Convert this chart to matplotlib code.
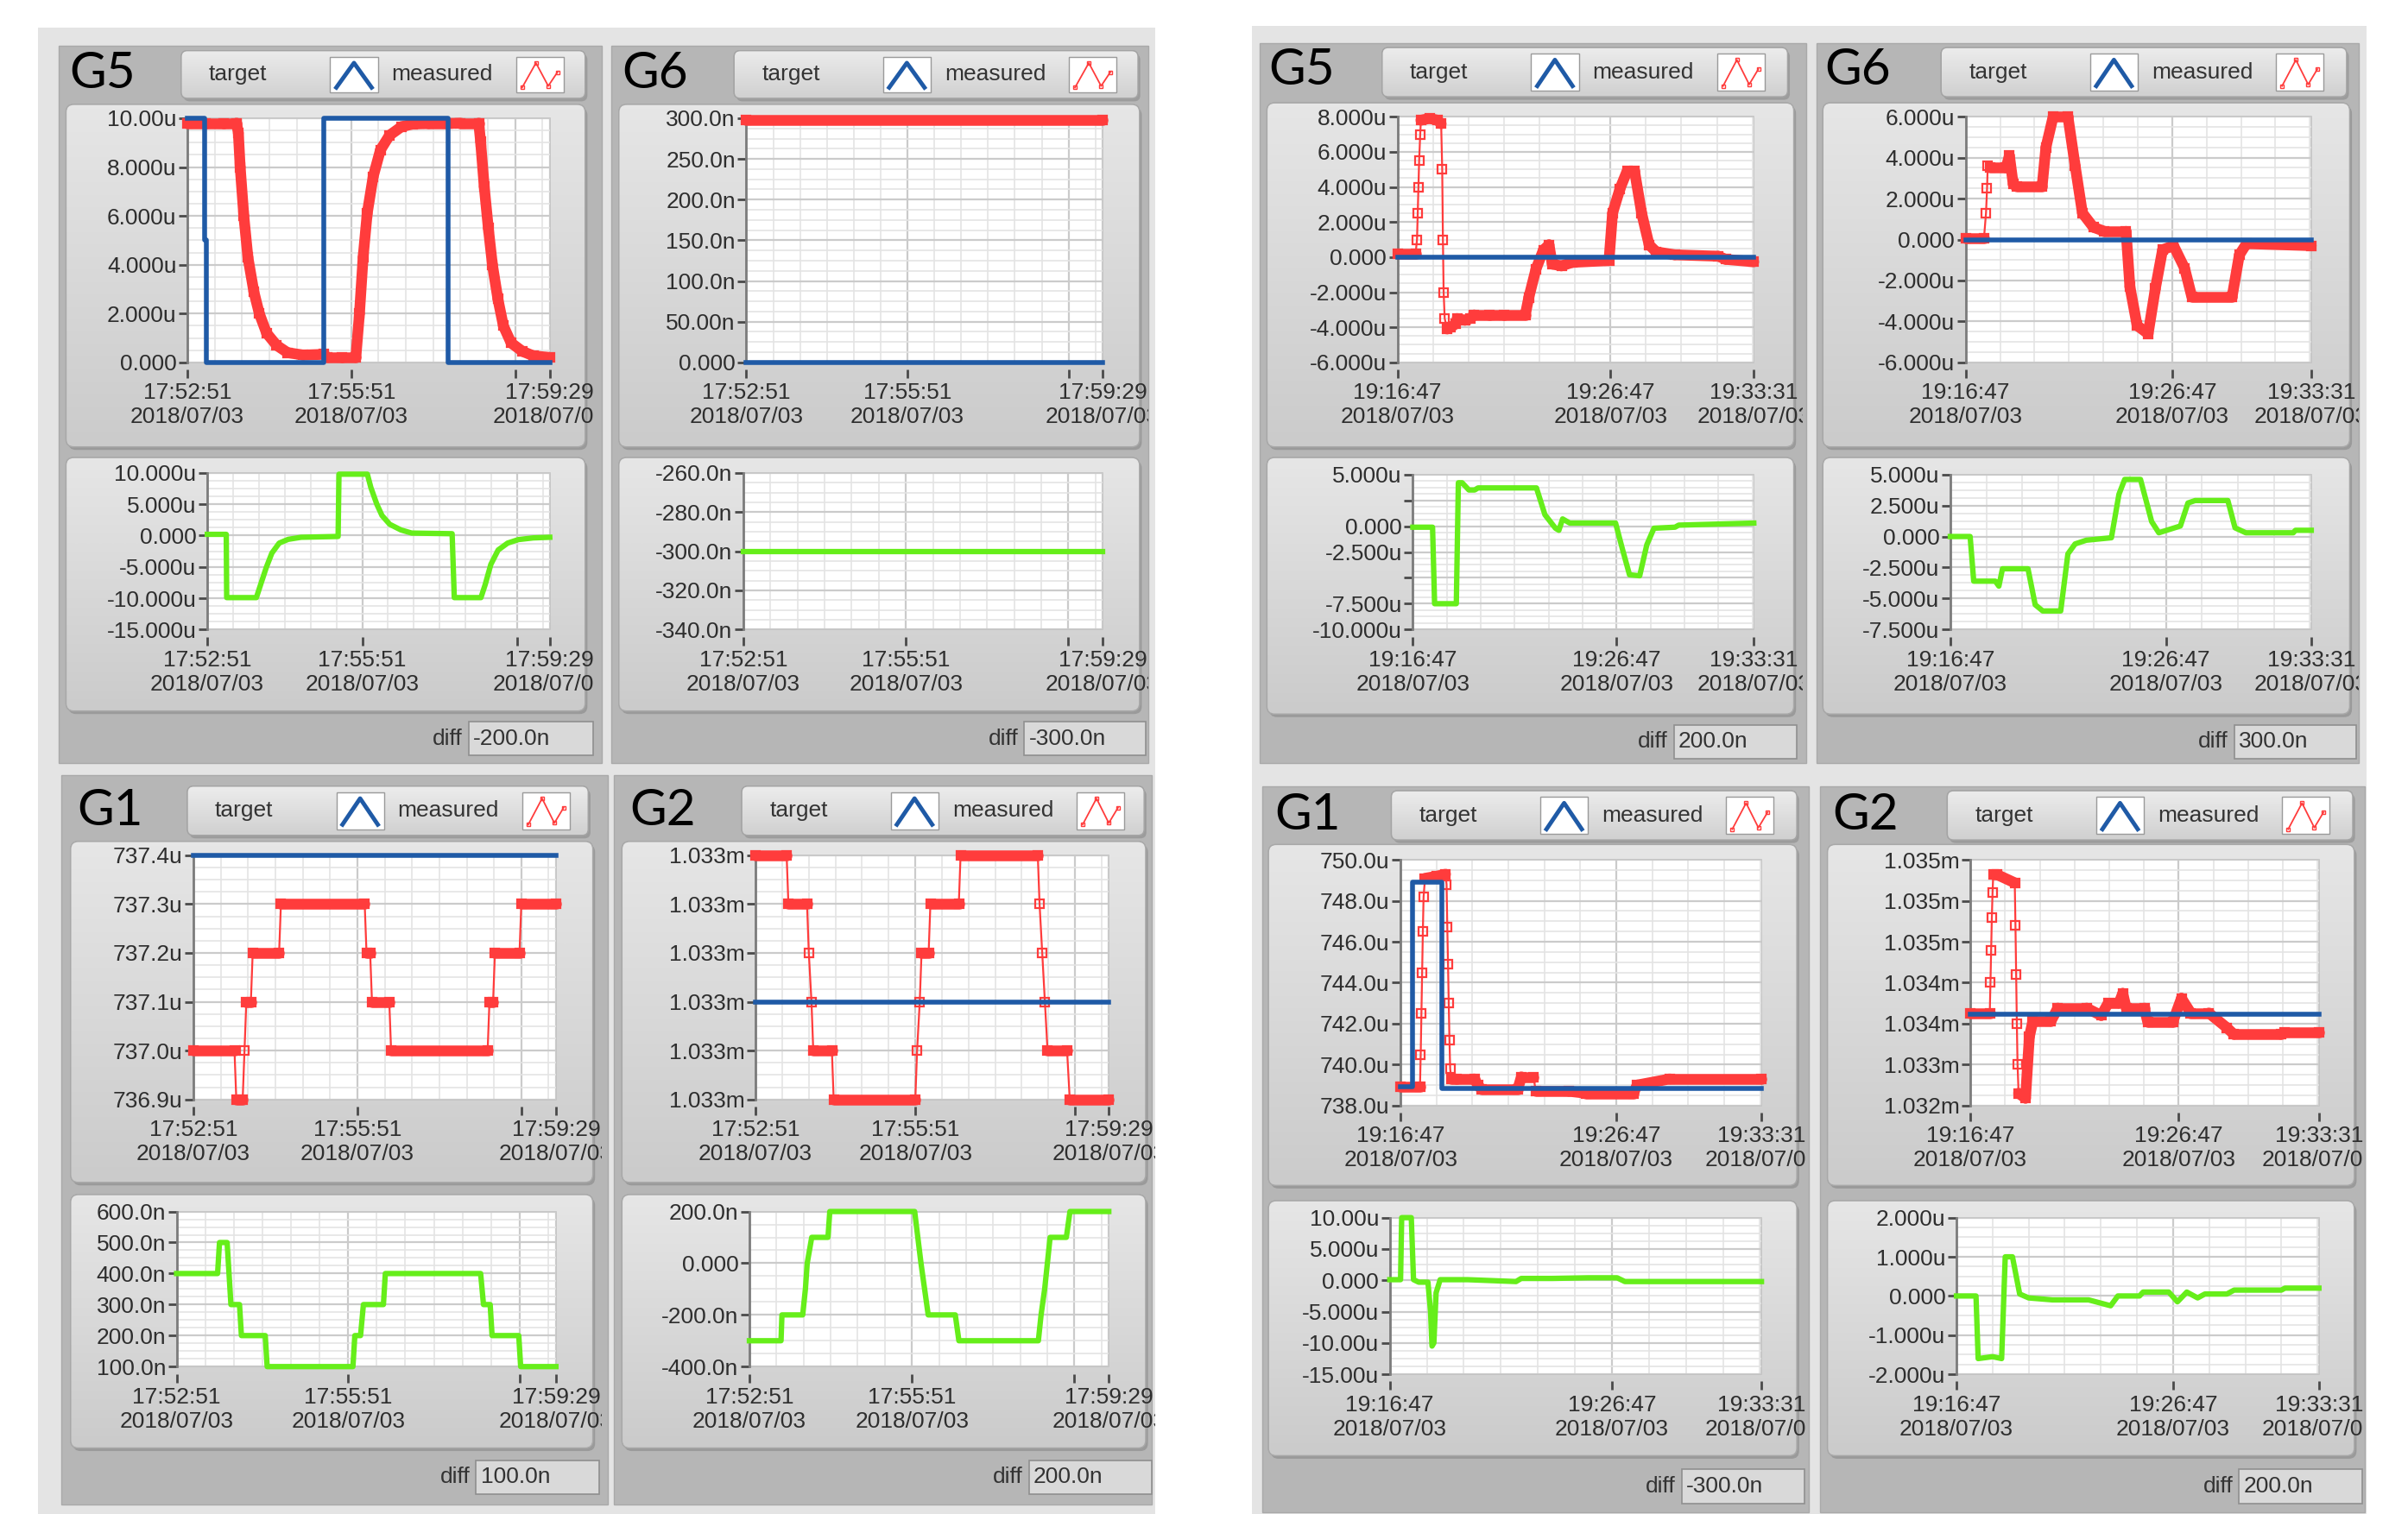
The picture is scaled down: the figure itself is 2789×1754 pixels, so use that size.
import numpy as np
import matplotlib.pyplot as plt
from matplotlib.patches import FancyBboxPatch, Rectangle
from matplotlib.collections import LineCollection
from matplotlib.colors import LinearSegmentedColormap
from matplotlib.ticker import MultipleLocator, AutoMinorLocator
from matplotlib.transforms import Bbox, TransformedBbox

plt.rcParams['font.family'] = ['Liberation Sans', 'DejaVu Sans']

W, H = 1568, 986  # layout units (y down), figure is 2789x1754 px

BLUE = '#1f5aa6'
RED = '#ff3c3c'
GREEN = '#66ee1a'
FS = 19  # text size of scales, legend and indicator

# --- time axes, seconds from first sample
left_xticks = [0, 180, 360, 398]
left_xlabels = ['17:52:51\n2018/07/03', '17:55:51\n2018/07/03', '', '17:59:29\n2018/07/03']
right_xticks = [0, 600, 1004]
right_xlabels = ['19:16:47\n2018/07/03', '19:26:47\n2018/07/03', '19:33:31\n2018/07/03']

# ---------------- left run (17:52 - 17:59) ----------------
# G5 (u)
g5l_target_t = [0, 19, 19, 21, 21, 150, 150, 286, 286, 398]
g5l_target_v = [10, 10, 5, 5, 0, 0, 10, 10, 0, 0]
g5l_meas_t = [0, 20, 40, 54, 56, 58, 62, 66.5, 73, 79, 87, 98, 110, 127, 150, 154, 170, 185,
              189, 193, 197.5, 204, 212, 222, 235, 247, 265, 285, 300, 320, 322, 326, 330.5,
              335, 341, 347, 355.5, 368, 380, 398]
g5l_meas_v = [9.8, 9.8, 9.8, 9.8, 9.4, 8.0, 6.0, 4.3, 2.9, 2.0, 1.2, 0.7, 0.4, 0.3, 0.33, 0.2, 0.2, 0.2,
              2.0, 4.3, 6.1, 7.6, 8.7, 9.3, 9.65, 9.76, 9.78, 9.78, 9.8, 9.8, 9.05, 7.2, 5.5,
              4.0, 2.6, 1.5, 0.8, 0.45, 0.27, 0.2]
g5l_diff_t = [0, 22, 22.5, 57, 62, 68.5, 75, 83.5, 94, 109, 152, 153, 186, 190, 197, 203, 212, 225,
              237.5, 284.5, 287, 318, 323, 329.5, 338, 349, 361.5, 378.7, 398]
g5l_diff_v = [0.2, 0.2, -9.9, -9.9, -7.8, -5.1, -2.8, -1.2, -0.6, -0.27, -0.14, 9.8, 9.8, 7.7, 5.0, 3.2,
              1.8, 0.9, 0.4, 0.3, -9.9, -9.9, -7.8, -4.6, -2.3, -1.2, -0.64, -0.37, -0.27]
g5l_top_ticks = [0, 2, 4, 6, 8, 10]
g5l_top_labels = ['0.000', '2.000u', '4.000u', '6.000u', '8.000u', '10.00u']
g5l_bot_ticks = [-15, -10, -5, 0, 5, 10]
g5l_bot_labels = ['-15.000u', '-10.000u', '-5.000u', '0.000', '5.000u', '10.000u']

# G6 (n)
g6l_target_t = [0, 398]
g6l_target_v = [0, 0]
g6l_meas_t = [0, 398]
g6l_meas_v = [298, 298]
g6l_diff_t = [0, 398]
g6l_diff_v = [-300, -300]
g6l_top_ticks = [0, 50, 100, 150, 200, 250, 300]
g6l_top_labels = ['0.000', '50.00n', '100.0n', '150.0n', '200.0n', '250.0n', '300.0n']
g6l_bot_ticks = [-340, -320, -300, -280, -260]
g6l_bot_labels = ['-340.0n', '-320.0n', '-300.0n', '-280.0n', '-260.0n']

# G1 (u)
g1l_target_t = [0, 398]
g1l_target_v = [737.4, 737.4]
g1l_meas_t = [0, 45, 47, 54, 56, 58, 63, 65, 94, 96, 188, 190, 194, 196, 215, 217, 323, 325,
              329, 331, 358, 360, 398]
g1l_meas_v = [737.0, 737.0, 736.9, 736.9, 737.0, 737.1, 737.1, 737.2, 737.2, 737.3, 737.3, 737.2,
              737.2, 737.1, 737.1, 737.0, 737.0, 737.1, 737.1, 737.2, 737.2, 737.3, 737.3]
g1l_diff_t = [0, 43, 45, 53, 55, 57, 66, 68, 93, 95, 185, 187, 193, 196, 217, 219, 319, 322, 329,
              331, 359, 361, 398]
g1l_diff_v = [400, 400, 500, 500, 400, 300, 300, 200, 200, 100, 100, 200, 200, 300, 300, 400, 400,
              300, 300, 200, 200, 100, 100]
g1l_top_ticks = [736.9, 737.0, 737.1, 737.2, 737.3, 737.4]
g1l_top_labels = ['736.9u', '737.0u', '737.1u', '737.2u', '737.3u', '737.4u']
g1l_bot_ticks = [100, 200, 300, 400, 500, 600]
g1l_bot_labels = ['100.0n', '200.0n', '300.0n', '400.0n', '500.0n', '600.0n']

# G2 (u)
g2l_target_t = [0, 398]
g2l_target_v = [1033.0, 1033.0]
g2l_meas_t = [0, 35, 37, 58, 60, 63, 65, 86, 88, 180, 182, 185, 187, 195, 197, 229, 231, 318,
              320, 323, 326, 329, 351, 354, 398]
g2l_meas_v = [1033.3, 1033.3, 1033.2, 1033.2, 1033.1, 1033.0, 1032.9, 1032.9, 1032.8, 1032.8,
              1032.9, 1033.0, 1033.1, 1033.1, 1033.2, 1033.2, 1033.3, 1033.3, 1033.2, 1033.1,
              1033.0, 1032.9, 1032.9, 1032.8, 1032.8]
g2l_diff_t = [0, 35, 36, 59, 62, 64, 69, 87, 89, 183, 190, 194, 198, 228, 232, 320, 323, 327,
              330, 333, 351, 355, 398]
g2l_diff_v = [-300, -300, -200, -200, -100, 0, 100, 100, 200, 200, 0, -100, -200, -200, -300,
              -300, -200, -100, 0, 100, 100, 200, 200]
g2l_top_ticks = [1032.8, 1032.9, 1033.0, 1033.1, 1033.2, 1033.3]
g2l_top_labels = ['1.033m'] * 6
g2l_bot_ticks = [-400, -200, 0, 200]
g2l_bot_labels = ['-400.0n', '-200.0n', '0.000', '200.0n']

# ---------------- right run (19:16 - 19:33) ----------------
# G5 (u)
g5r_target_t = [0, 1004]
g5r_target_v = [0, 0]
g5r_meas_t = [0, 51, 55, 57, 59, 61, 64, 66, 90, 113, 123, 126, 128, 130, 133, 140, 150, 164,
              168, 190, 205, 216, 260, 300, 360, 370, 390, 411, 427, 436, 462, 493, 596, 606,
              627, 647, 668, 688, 709, 729, 781, 904, 925, 1004]
g5r_meas_v = [0.2, 0.2, 1.0, 2.5, 4.0, 5.5, 7.0, 7.8, 7.9, 7.8, 7.6, 5.0, 1.0, -2.0, -3.5, -4.1,
              -4.0, -3.8, -3.5, -3.6, -3.5, -3.3, -3.3, -3.3, -3.3, -2.3, -0.7, 0.4, 0.7, -0.4,
              -0.5, -0.3, -0.2, 2.5, 3.9, 4.9, 4.9, 2.5, 0.7, 0.3, 0.13, 0.05, -0.13, -0.27]
g5r_diff_t = [0, 58, 64, 128, 134, 145, 165, 182, 192, 364, 389, 420, 430, 441, 462, 597, 617,
              638, 668, 689, 710, 772, 783, 1004]
g5r_diff_v = [-0.1, -0.1, -7.5, -7.5, 4.2, 4.2, 3.5, 3.5, 3.7, 3.7, 1.1, -0.2, -0.4, 0.7, 0.3,
              0.3, -2.2, -4.7, -4.8, -1.8, -0.2, -0.1, 0.1, 0.3]
g5r_top_ticks = [-6, -4, -2, 0, 2, 4, 6, 8]
g5r_top_labels = ['-6.000u', '-4.000u', '-2.000u', '0.000', '2.000u', '4.000u', '6.000u', '8.000u']
g5r_bot_ticks = [-10, -7.5, -5, -2.5, 0, 2.5, 5]
g5r_bot_labels = ['-10.000u', '-7.500u', '', '-2.500u', '0.000', '', '5.000u']

# G6 (u)
g6r_target_t = [0, 1004]
g6r_target_v = [0, 0]
g6r_meas_t = [0, 53, 59, 62, 64, 70, 117, 127, 138, 148, 222, 233, 254, 297, 318, 339, 371,
              403, 466, 477, 498, 530, 551, 572, 604, 636, 657, 774, 795, 816, 1004]
g6r_meas_v = [0.05, 0.05, 1.3, 2.5, 3.6, 3.5, 3.5, 4.1, 2.7, 2.6, 2.6, 4.5, 6.0, 6.0, 3.6, 1.3,
              0.6, 0.4, 0.4, -2.3, -4.2, -4.6, -2.4, -0.5, -0.3, -1.4, -2.8, -2.8, -0.75, -0.2, -0.3]
g6r_diff_t = [0, 55, 65, 125, 135, 145, 216, 236, 257, 307, 327, 347, 378, 448, 469, 485, 529,
              560, 580, 640, 661, 681, 772, 792, 822, 954, 960, 1004]
g6r_diff_v = [0, 0, -3.6, -3.6, -4.0, -2.6, -2.6, -5.5, -6.0, -6.0, -1.4, -0.6, -0.3, -0.1, 3.4,
              4.6, 4.6, 1.2, 0.3, 0.85, 2.7, 2.9, 2.9, 0.7, 0.3, 0.3, 0.5, 0.5]
g6r_top_ticks = [-6, -4, -2, 0, 2, 4, 6]
g6r_top_labels = ['-6.000u', '-4.000u', '-2.000u', '0.000', '2.000u', '4.000u', '6.000u']
g6r_bot_ticks = [-7.5, -5, -2.5, 0, 2.5, 5]
g6r_bot_labels = ['-7.500u', '-5.000u', '-2.500u', '0.000', '2.500u', '5.000u']

# G1 (u)
g1r_target_t = [0, 34, 34, 115, 115, 1004]
g1r_target_v = [738.9, 738.9, 748.9, 748.9, 738.85, 738.85]
g1r_meas_t = [0, 54, 56, 58, 60, 62, 64, 68, 100, 125, 128, 130, 132, 134, 136, 138, 141, 155,
              205, 215, 225, 326, 336, 370, 376, 467, 517, 648, 658, 749, 1004]
g1r_meas_v = [738.9, 738.9, 740.5, 742.5, 744.5, 746.5, 748.2, 749.1, 749.2, 749.3, 748.8, 746.7,
              744.9, 743.0, 741.2, 739.8, 739.3, 739.3, 739.3, 739.0, 738.8, 738.8, 739.4, 739.4,
              738.7, 738.7, 738.6, 738.6, 739.0, 739.3, 739.3]
g1r_diff_t = [0, 29, 32, 58, 64, 78, 103, 110, 114, 119, 125, 136, 210, 341, 355, 439, 536, 614,
              635, 1004]
g1r_diff_v = [0.1, 0.1, 10.0, 10.0, 0.1, -0.3, -0.3, -5.0, -10.5, -10.0, -2.0, 0.1, 0.1, -0.2,
              0.3, 0.3, 0.4, 0.4, -0.2, -0.2]
g1r_top_ticks = [738, 740, 742, 744, 746, 748, 750]
g1r_top_labels = ['738.0u', '740.0u', '742.0u', '744.0u', '746.0u', '748.0u', '750.0u']
g1r_bot_ticks = [-15, -10, -5, 0, 5, 10]
g1r_bot_labels = ['-15.00u', '-10.00u', '-5.000u', '0.000', '5.000u', '10.00u']

# G2 (u)
g2r_target_t = [0, 1004]
g2r_target_v = [1033.32, 1033.32]
g2r_meas_t = [0, 56, 58, 60, 62, 64, 66, 77, 128, 130, 132, 134, 136, 139, 159, 170, 180, 232,
              252, 335, 377, 397, 428, 439, 449, 501, 511, 583, 608, 635, 687, 739, 759, 894,
              904, 1004]
g2r_meas_v = [1033.33, 1033.33, 1033.7, 1034.1, 1034.5, 1034.8, 1035.02, 1035.02, 1034.92,
              1034.4, 1033.8, 1033.2, 1032.7, 1032.35, 1032.29, 1033.04, 1033.23, 1033.23,
              1033.39, 1033.39, 1033.30, 1033.45, 1033.45, 1033.57, 1033.39, 1033.39, 1033.22,
              1033.22, 1033.51, 1033.33, 1033.33, 1033.15, 1033.07, 1033.07, 1033.09, 1033.09]
g2r_diff_t = [0, 54, 60, 100, 125, 135, 155, 175, 200, 266, 366, 427, 447, 507, 517, 588, 612,
              638, 668, 688, 749, 769, 900, 910, 1004]
g2r_diff_v = [0.0, 0.0, -1.6, -1.55, -1.6, 1.0, 1.0, 0.05, -0.05, -0.1, -0.1, -0.25, 0.0, 0.0,
              0.1, 0.1, -0.15, 0.1, -0.05, 0.05, 0.05, 0.15, 0.15, 0.2, 0.2]
g2r_top_ticks = [1032.2, 1032.7, 1033.2, 1033.7, 1034.2, 1034.7, 1035.2]
g2r_top_labels = ['1.032m', '1.033m', '1.034m', '1.034m', '1.035m', '1.035m', '1.035m']
g2r_bot_ticks = [-2, -1, 0, 1, 2]
g2r_bot_labels = ['-2.000u', '-1.000u', '0.000', '1.000u', '2.000u']

diff_values = {'G5L': '-200.0n', 'G6L': '-300.0n', 'G1L': '100.0n', 'G2L': '200.0n',
               'G5R': '200.0n', 'G6R': '300.0n', 'G1R': '-300.0n', 'G2R': '200.0n'}

# ---------------- layout (reference pixel units, y down) ----------------
panels = [
    dict(key='G5L', name='G5', panel=(38, 30, 392, 497), label=(45, 48), legend=(118, 33, 381, 64),
         top=(43, 68, 381, 291), bot=(43, 298, 381, 463), field=(305, 470, 386, 492),
         top_ax=(122, 77, 358, 236), bot_ax=(135, 308, 358, 410), run='L', thr=1,
         data=(g5l_target_t, g5l_target_v, g5l_meas_t, g5l_meas_v, g5l_diff_t, g5l_diff_v),
         yt=(g5l_top_ticks, g5l_top_labels, g5l_bot_ticks, g5l_bot_labels)),
    dict(key='G6L', name='G6', panel=(398, 30, 748, 497), label=(405, 48), legend=(478, 33, 741, 64),
         top=(403, 68, 742, 291), bot=(403, 298, 742, 463), field=(667, 470, 746, 492),
         top_ax=(486, 77, 718, 236), bot_ax=(484, 308, 718, 410), run='L', thr=1,
         data=(g6l_target_t, g6l_target_v, g6l_meas_t, g6l_meas_v, g6l_diff_t, g6l_diff_v),
         yt=(g6l_top_ticks, g6l_top_labels, g6l_bot_ticks, g6l_bot_labels)),
    dict(key='G1L', name='G1', panel=(40, 505, 396, 980), label=(50, 528), legend=(122, 512, 383, 544),
         top=(46, 548, 386, 770), bot=(46, 778, 386, 943), field=(310, 951, 390, 973),
         top_ax=(126, 557, 362, 716), bot_ax=(115, 789, 362, 890), run='L', thr=3.5,
         data=(g1l_target_t, g1l_target_v, g1l_meas_t, g1l_meas_v, g1l_diff_t, g1l_diff_v),
         yt=(g1l_top_ticks, g1l_top_labels, g1l_bot_ticks, g1l_bot_labels)),
    dict(key='G2L', name='G2', panel=(400, 505, 750, 980), label=(410, 528), legend=(483, 512, 745, 544),
         top=(405, 548, 746, 770), bot=(405, 778, 746, 943), field=(670, 951, 750, 973),
         top_ax=(492, 557, 722, 716), bot_ax=(488, 789, 722, 890), run='L', thr=3.5,
         data=(g2l_target_t, g2l_target_v, g2l_meas_t, g2l_meas_v, g2l_diff_t, g2l_diff_v),
         yt=(g2l_top_ticks, g2l_top_labels, g2l_bot_ticks, g2l_bot_labels)),
    dict(key='G5R', name='G5', panel=(820, 28, 1176, 497), label=(826, 46), legend=(900, 31, 1164, 63),
         top=(825, 67, 1168, 291), bot=(825, 298, 1168, 465), field=(1090, 472, 1170, 494),
         top_ax=(910, 76, 1142, 236), bot_ax=(920, 309, 1142, 410), run='R', thr=8,
         data=(g5r_target_t, g5r_target_v, g5r_meas_t, g5r_meas_v, g5r_diff_t, g5r_diff_v),
         yt=(g5r_top_ticks, g5r_top_labels, g5r_bot_ticks, g5r_bot_labels)),
    dict(key='G6R', name='G6', panel=(1183, 28, 1536, 497), label=(1188, 46), legend=(1264, 31, 1528, 63),
         top=(1187, 67, 1530, 291), bot=(1187, 298, 1530, 465), field=(1455, 472, 1534, 494),
         top_ax=(1280, 76, 1505, 236), bot_ax=(1270, 309, 1505, 410), run='R', thr=8,
         data=(g6r_target_t, g6r_target_v, g6r_meas_t, g6r_meas_v, g6r_diff_t, g6r_diff_v),
         yt=(g6r_top_ticks, g6r_top_labels, g6r_bot_ticks, g6r_bot_labels)),
    dict(key='G1R', name='G1', panel=(822, 512, 1178, 985), label=(830, 531), legend=(906, 515, 1170, 547),
         top=(826, 550, 1170, 772), bot=(826, 782, 1170, 948), field=(1095, 957, 1175, 979),
         top_ax=(912, 560, 1147, 720), bot_ax=(905, 793, 1147, 895), run='R', thr=8,
         data=(g1r_target_t, g1r_target_v, g1r_meas_t, g1r_meas_v, g1r_diff_t, g1r_diff_v),
         yt=(g1r_top_ticks, g1r_top_labels, g1r_bot_ticks, g1r_bot_labels)),
    dict(key='G2R', name='G2', panel=(1185, 512, 1540, 985), label=(1193, 531), legend=(1268, 515, 1532, 547),
         top=(1190, 550, 1533, 772), bot=(1190, 782, 1533, 948), field=(1458, 957, 1538, 979),
         top_ax=(1283, 560, 1510, 720), bot_ax=(1274, 793, 1510, 895), run='R', thr=8,
         data=(g2r_target_t, g2r_target_v, g2r_meas_t, g2r_meas_v, g2r_diff_t, g2r_diff_v),
         yt=(g2r_top_ticks, g2r_top_labels, g2r_bot_ticks, g2r_bot_labels)),
]

fig = plt.figure(figsize=(27.89, 17.54), dpi=100)
bg = fig.add_axes([0, 0, 1, 1], zorder=-10)
bg.set_xlim(0, W)
bg.set_ylim(H, 0)
bg.set_autoscale_on(False)
bg.axis('off')


def rbox(box, face, edge='none', r=4, lw=1.0, z=1, grad=None):
    x0, y0, x1, y1 = box
    p = FancyBboxPatch((x0, y0), x1 - x0, y1 - y0, boxstyle=f'round,pad=0,rounding_size={r}',
                       fc=face, ec=edge, lw=lw, zorder=z)
    bg.add_patch(p)
    if grad is not None:
        cmap = LinearSegmentedColormap.from_list('g', grad)
        im = bg.imshow(np.linspace(0, 1, 64).reshape(-1, 1), cmap=cmap, aspect='auto',
                       extent=(x0, x1, y1, y0), zorder=z + 0.01, interpolation='bilinear')
        im.set_clip_path(p)
        bg.add_patch(FancyBboxPatch((x0, y0), x1 - x0, y1 - y0,
                                    boxstyle=f'round,pad=0,rounding_size={r}',
                                    fc='none', ec=edge, lw=lw, zorder=z + 0.02))
    return p


def frac(box):
    x0, y0, x1, y1 = box
    return [x0 / W, 1 - y1 / H, (x1 - x0) / W, (y1 - y0) / H]


def style_axes(ax, run, yticks, ylabels, clip_x):
    xt = left_xticks if run == 'L' else right_xticks
    xl = left_xlabels if run == 'L' else right_xlabels
    ax.set_xlim(xt[0], xt[-1])
    ax.set_ylim(yticks[0], yticks[-1])
    ax.set_xticks(xt, xl)
    ax.set_yticks(yticks, ylabels)
    ax.xaxis.set_minor_locator(MultipleLocator(30 if run == 'L' else 100))
    ax.yaxis.set_minor_locator(AutoMinorLocator(4))
    ax.set_axisbelow(True)
    ax.grid(which='major', color='#cbcbcb', lw=1.6)
    ax.grid(which='minor', color='#e4e4e4', lw=1.2)
    ax.tick_params(which='minor', length=0)
    ax.tick_params(which='major', direction='out', length=7, width=2, color='#4a4a4a',
                   labelsize=FS, labelcolor='#2e2e2e', pad=2)
    ax.tick_params(axis='x', pad=4)
    ax.set_facecolor('white')
    ax.patch.set_edgecolor('#c2c2c2')
    ax.patch.set_linewidth(1.2)
    for s in ['top', 'right']:
        ax.spines[s].set_visible(False)
    ax.spines['left'].set_color('#7c7c7c')
    ax.spines['left'].set_linewidth(2)
    ax.spines['bottom'].set_position(('outward', 6))
    ax.spines['bottom'].set_visible(False)
    cb = TransformedBbox(Bbox([[0, 0], [clip_x, H]]), bg.transData)
    for lab in ax.get_xticklabels():
        lab.set_clip_box(cb)
        lab.set_clip_on(True)


def draw_measured(ax, t, v, thr):
    t = np.asarray(t, float)
    v = np.asarray(v, float)
    ax.plot(t, v, color=RED, lw=1.6, marker='s', ms=7, mfc='none', mec=RED, mew=1.6,
            clip_on=False, zorder=3)
    pts = np.column_stack([t, v])
    segs = np.stack([pts[:-1], pts[1:]], axis=1)[np.diff(t) > thr]
    lc = LineCollection(segs, colors=RED, linewidths=9, capstyle='round', zorder=3)
    lc.set_clip_on(False)
    ax.add_collection(lc)


# blocks
for box in [(25, 18, 752, 987), (815, 17, 1541, 987)]:
    bg.add_patch(Rectangle((box[0], box[1]), box[2] - box[0], box[3] - box[1],
                           fc='#e4e4e4', ec='none', zorder=0))

for p in panels:
    x0, y0, x1, y1 = p['panel']
    bg.add_patch(Rectangle((x0, y0), x1 - x0, y1 - y0, fc='#b6b6b6', ec='#a9a9a9', lw=1, zorder=0.5))
    bg.text(p['label'][0], p['label'][1], p['name'], fontsize=42, family=['Lato', 'DejaVu Sans'],
            color='black', va='center', ha='left', zorder=2)

    # legend strip
    lx0, ly0, lx1, ly1 = p['legend']
    rbox((lx0 + 1.5, ly0 + 2, lx1 + 1.5, ly1 + 2), '#9c9c9c', r=4, z=0.8)
    rbox(p['legend'], '#dadada', edge='#a4a4a4', r=4, z=1, grad=['#ececec', '#d0d0d0'])
    ym = (ly0 + ly1) / 2
    bg.text(lx0 + 37, ym, 'target', fontsize=FS, color='#333333', ha='center', va='center', zorder=3)
    bg.text(lx0 + 170, ym, 'measured', fontsize=FS, color='#333333', ha='center', va='center', zorder=3)
    bx = lx0 + 97
    bg.add_patch(Rectangle((bx, ly0 + 4), 31, ly1 - ly0 - 8, fc='white', ec='#9a9a9a', lw=1, zorder=2))
    bg.plot([bx + 4, bx + 15.5, bx + 27], [ly1 - 7, ly0 + 8, ly1 - 7], color=BLUE, lw=3.5, zorder=3)
    rx = lx0 + 218
    bg.add_patch(Rectangle((rx, ly0 + 4), 31, ly1 - ly0 - 8, fc='white', ec='#9a9a9a', lw=1, zorder=2))
    bg.plot([rx + 4, rx + 13, rx + 21, rx + 27], [ly1 - 7, ly0 + 8, ly1 - 8, ly0 + 14],
            color=RED, lw=1.3, marker='s', ms=3.5, mfc='none', mew=1, zorder=3)

    # graph frames
    for fr in (p['top'], p['bot']):
        rbox((fr[0] + 1.5, fr[1] + 2, fr[2] + 1.5, fr[3] + 2), '#9a9a9a', r=5, z=0.8)
        rbox(fr, '#d6d6d6', edge='#a8a8a8', r=5, z=1, grad=['#e6e6e6', '#cbcbcb'])

    # diff indicator
    fx0, fy0, fx1, fy1 = p['field']
    bg.add_patch(Rectangle((fx0, fy0), fx1 - fx0, fy1 - fy0, fc='#d9d9d9', ec='#8f8f8f', lw=1.2, zorder=1))
    bg.text(fx0 - 4, (fy0 + fy1) / 2, 'diff', fontsize=FS, color='#333333', ha='right', va='center', zorder=3)
    bg.text(fx0 + 3, (fy0 + fy1) / 2, diff_values[p['key']], fontsize=FS, color='#333333',
            ha='left', va='center', zorder=3)

    tt, tv, mt, mv, dt, dv = p['data']
    ytop, ltop, ybot, lbot = p['yt']
    clip_x = p['top'][2] + 6

    ax = fig.add_axes(frac(p['top_ax']), zorder=1)
    style_axes(ax, p['run'], ytop, ltop, clip_x)
    draw_measured(ax, mt, mv, p['thr'])
    ax.plot(tt, tv, color=BLUE, lw=4, clip_on=False, zorder=4)

    ax2 = fig.add_axes(frac(p['bot_ax']), zorder=1)
    style_axes(ax2, p['run'], ybot, lbot, clip_x)
    ax2.plot(dt, dv, color=GREEN, lw=4.5, clip_on=False, zorder=3)

fig.savefig('out.png', dpi=100)
